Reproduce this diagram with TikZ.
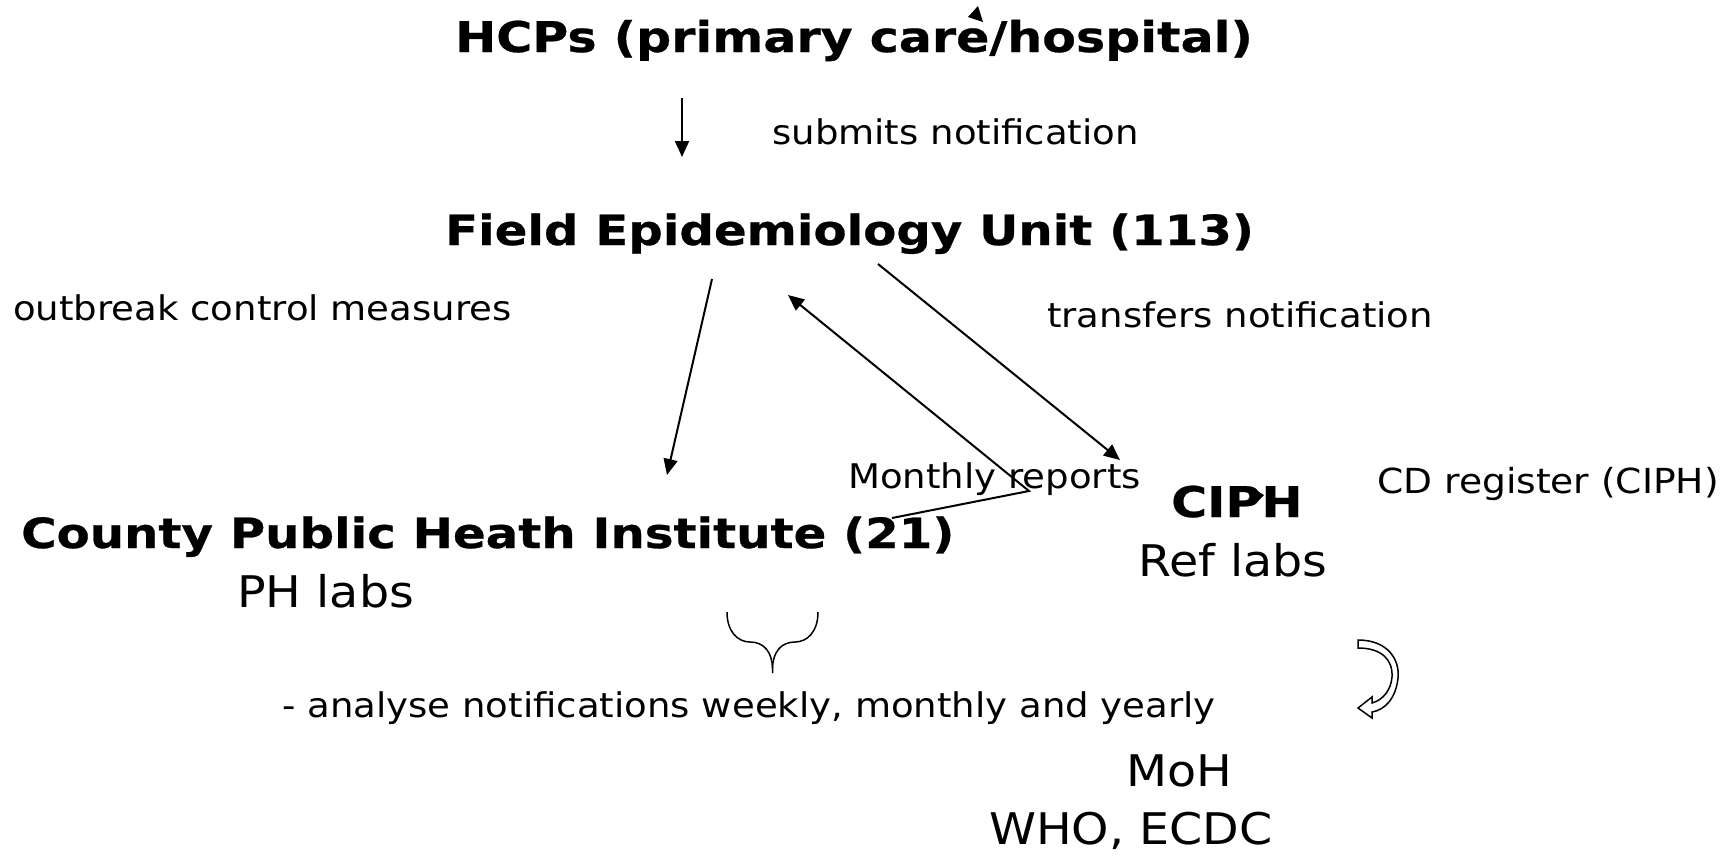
\documentclass[tikz,border=0pt]{standalone}
\usepackage{fontspec}
\setmainfont{DejaVu Sans}
\newfontfamily\bfam{DejaVu Sans Bold}[FakeStretch=1.16, FakeBold=0.6]
\newfontfamily\rfam{DejaVu Sans}[FakeStretch=1.09]
\usetikzlibrary{arrows.meta}
\tikzset{
  headtxt/.style={font=\bfam\fontsize{41.6}{48}\selectfont, inner sep=0pt, anchor=base west},
  lbl/.style={font=\rfam\fontsize{34}{40}\selectfont, inner sep=0pt, anchor=base west},
  bigtxt/.style={font=\rfam\fontsize{43.6}{50}\selectfont, inner sep=0pt, anchor=base west},
  conn/.style={line width=2pt, -{Triangle[length=16pt,width=14pt]}},
}
\begin{document}
\begin{tikzpicture}[x=1pt,y=-1pt]
\useasboundingbox[fill=white] (0,0) rectangle (1732,855);
% texts
\node[headtxt, font=\bfam\fontsize{42.3}{48}\selectfont] (hcp) at (455,52) {HCPs (primary care/hospital)};
\node[lbl] (sub) at (772,144) {submits notification};
\node[headtxt] (feu) at (445,245) {Field Epidemiology Unit (113)};
\node[lbl] (ocm) at (13,320) {outbreak control measures};
\node[lbl] (tra) at (1047,327) {transfers notification};
\node[lbl] (mon) at (848,488) {Monthly reports};
\node[headtxt] (cph) at (21,548) {County Public Heath Institute (21)};
\node[bigtxt] (phl) at (237,607) {PH labs};
\node[headtxt, font=\bfam\fontsize{42.3}{48}\selectfont] (ciph) at (1171,517) {CIPH};
\node[bigtxt] (ref) at (1138,576) {Ref labs};
\node[lbl, font=\rfam\fontsize{34.5}{40}\selectfont] (cdr) at (1377,493) {CD register (CIPH)};
\node[lbl] (ana) at (282,717) {- analyse notifications weekly, monthly and yearly};
\node[bigtxt] (moh) at (1126,786) {MoH};
\node[bigtxt] (who) at (989,844) {WHO, ECDC};
% connector end points
\coordinate (a1s) at (682,98);
\coordinate (a1e) at (682,157);
\coordinate (a2s) at (712,279);
\coordinate (a2e) at (667,475);
\coordinate (a3s) at (878,264);
\coordinate (a3e) at (1120,460);
\coordinate (mv) at (1029,491);
\coordinate (mt) at (788,295);
\coordinate (ml) at (892,518);
\draw[conn] (a1s) -- (a1e);
\draw[conn] (a2s) -- (a2e);
\draw[conn] (a3s) -- (a3e);
\draw[conn, line join=miter] (ml) -- (mv) -- (mt);
% stray marks
\fill (978,6) -- (968,17) -- (983,22) -- cycle;
\fill (1254,489) -- (1264,495) -- (1258,501) -- cycle;
% brace
\draw[line width=1.5pt] (727,612) .. controls (727,632) and (738,642) .. (750,642)
  .. controls (764,642) and (772,652) .. (772.5,668) -- (772.5,673);
\draw[line width=1.5pt] (818,612) .. controls (818,632) and (807,642) .. (795,642)
  .. controls (781,642) and (773,652) .. (772.5,668);
% curved block arrow
\draw[line width=1.5pt, fill=white, line join=miter]
  (1358,640) .. controls (1388,640) and (1400,660) .. (1398,678)
  .. controls (1396,698) and (1385,710) .. (1372,712)
  -- (1372,718) -- (1358,708) -- (1372,697) -- (1372,703)
  .. controls (1383,700) and (1391,690) .. (1392,677)
  .. controls (1393,660) and (1382,648) .. (1358,648) -- cycle;
\end{tikzpicture}
\end{document}
